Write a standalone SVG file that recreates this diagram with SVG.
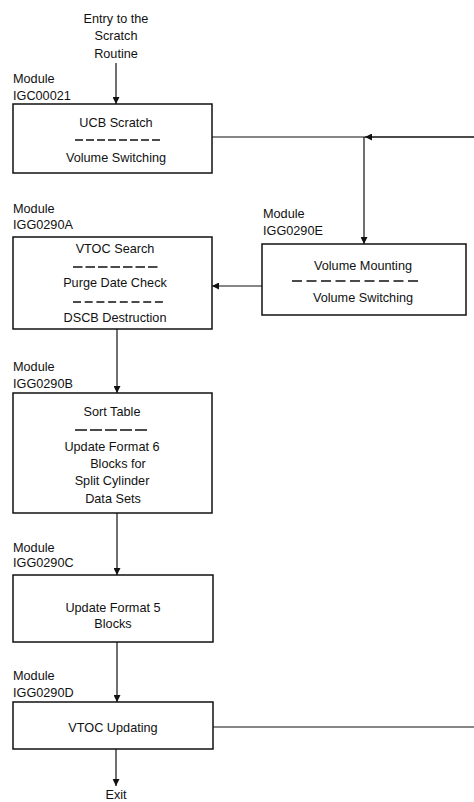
<svg xmlns="http://www.w3.org/2000/svg" width="474" height="802" viewBox="0 0 474 802">
<style>
text{font-family:"Liberation Sans",Arial,sans-serif;font-size:12.7px;fill:#111}
.c{text-anchor:middle}
.box{fill:#fff;stroke:#111;stroke-width:1.5}
.ln{fill:none;stroke:#111;stroke-width:1.2}
.dash{stroke:#111;stroke-width:1.7}
</style>
<defs>
<marker id="ah" viewBox="0 0 10 10" refX="10" refY="5" markerWidth="8" markerHeight="7" markerUnits="userSpaceOnUse" orient="auto">
<path d="M0,0 L10,5 L0,10 z" fill="#111"/>
</marker>
</defs>
<rect width="474" height="802" fill="#fff"/>
<g id="connectors">
<line class="ln" x1="116" y1="63" x2="116" y2="104" marker-end="url(#ah)"/>
<line class="ln" x1="212" y1="137" x2="474" y2="137"/>
<line class="ln" x1="474" y1="137" x2="365" y2="137" marker-end="url(#ah)"/>
<line class="ln" x1="364" y1="137" x2="364" y2="244" marker-end="url(#ah)"/>
<line class="ln" x1="262" y1="286" x2="212" y2="286" marker-end="url(#ah)"/>
<line class="ln" x1="117" y1="329" x2="117" y2="393" marker-end="url(#ah)"/>
<line class="ln" x1="117" y1="513" x2="117" y2="575" marker-end="url(#ah)"/>
<line class="ln" x1="117" y1="642" x2="117" y2="702" marker-end="url(#ah)"/>
<line class="ln" x1="213" y1="727" x2="474" y2="727"/>
<line class="ln" x1="116" y1="749" x2="116" y2="786" marker-end="url(#ah)"/>
</g>
<g id="entry">
<text class="c" x="116" y="23">Entry to the</text>
<text class="c" x="116" y="40">Scratch</text>
<text class="c" x="116" y="58">Routine</text>
</g>
<g id="IGC00021">
<text x="13" y="83">Module</text>
<text x="13" y="100">IGC00021</text>
<rect class="box" x="13" y="104" width="199" height="69"/>
<text class="c" x="116" y="127">UCB Scratch</text>
<line class="dash" x1="75" y1="140" x2="163" y2="140" stroke-dasharray="8,3"/>
<text class="c" x="116" y="162">Volume Switching</text>
</g>
<g id="IGG0290E">
<text x="263" y="218">Module</text>
<text x="263" y="235">IGG0290E</text>
<rect class="box" x="262" y="244" width="204" height="71"/>
<text class="c" x="363" y="270">Volume Mounting</text>
<line class="dash" x1="292" y1="281" x2="418" y2="281" stroke-dasharray="10,4.5"/>
<text class="c" x="363" y="302">Volume Switching</text>
</g>
<g id="IGG0290A">
<text x="13" y="213">Module</text>
<text x="13" y="229">IGG0290A</text>
<rect class="box" x="13" y="237" width="199" height="92"/>
<text class="c" x="115" y="253">VTOC Search</text>
<line class="dash" x1="73" y1="267" x2="158" y2="267" stroke-dasharray="9.5,3"/>
<text class="c" x="115" y="287">Purge Date Check</text>
<line class="dash" x1="73" y1="302" x2="166" y2="302" stroke-dasharray="8,3.7"/>
<text class="c" x="115" y="322">DSCB Destruction</text>
</g>
<g id="IGG0290B">
<text x="13" y="371">Module</text>
<text x="13" y="388">IGG0290B</text>
<rect class="box" x="13" y="393" width="199" height="120"/>
<text class="c" x="112" y="416">Sort Table</text>
<line class="dash" x1="75" y1="430" x2="147" y2="430" stroke-dasharray="12,3"/>
<text class="c" x="112" y="451">Update Format 6</text>
<text class="c" x="118" y="468">Blocks for</text>
<text class="c" x="112" y="485">Split Cylinder</text>
<text class="c" x="113" y="503">Data Sets</text>
</g>
<g id="IGG0290C">
<text x="13" y="552">Module</text>
<text x="13" y="567">IGG0290C</text>
<rect class="box" x="13" y="575" width="200" height="67"/>
<text class="c" x="113" y="612">Update Format 5</text>
<text class="c" x="113" y="628">Blocks</text>
</g>
<g id="IGG0290D">
<text x="13" y="680">Module</text>
<text x="13" y="697">IGG0290D</text>
<rect class="box" x="13" y="702" width="200" height="47"/>
<text class="c" x="113" y="732">VTOC Updating</text>
</g>
<g id="exit">
<text class="c" x="116" y="799">Exit</text>
</g>
</svg>
